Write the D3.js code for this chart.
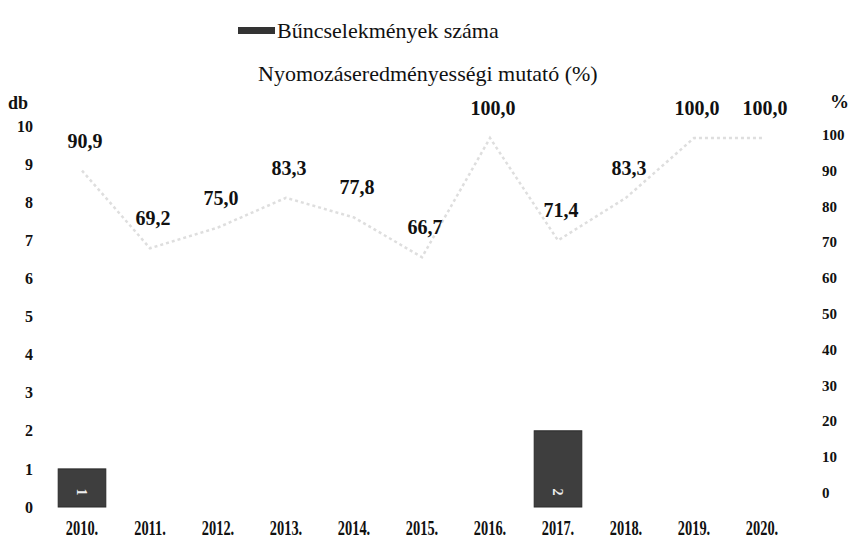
<!DOCTYPE html>
<html>
<head>
<meta charset="utf-8">
<script src="https://cdn.jsdelivr.net/npm/d3@7"></script>
<style>
  body { margin: 0; background: #fff; }
  text { font-family: "Liberation Serif", "Times New Roman", serif; }
</style>
</head>
<body>
<script>
const width = 855;
const height = 539;

// chart data
const years = ["2010.", "2011.", "2012.", "2013.", "2014.", "2015.", "2016.", "2017.", "2018.", "2019.", "2020."];
const crimes = [1, 0, 0, 0, 0, 0, 0, 2, 0, 0, 0];
const clearance = [90.9, 69.2, 75.0, 83.3, 77.8, 66.7, 100.0, 71.4, 83.3, 100.0, 100.0];
const leftTicks = [0, 1, 2, 3, 4, 5, 6, 7, 8, 9, 10];
const rightTicks = [0, 10, 20, 30, 40, 50, 60, 70, 80, 90, 100];
const seriesNames = ["Bűncselekmények száma", "Nyomozáseredményességi mutató (%)"];

const fmt = (v) => v.toFixed(1).replace(".", ",");

const svg = d3
  .select("body")
  .append("svg")
  .attr("width", width)
  .attr("height", height);

const x = d3
  .scaleBand()
  .domain(years)
  .range([48, 796])
  .paddingInner(0.3)
  .paddingOuter(0.15);

const yL = d3.scaleLinear().domain([0, 10]).range([507, 126]);
const yR = d3.scaleLinear().domain([0, 100]).range([496, 138]);

const cx = (year) => x(year) + x.bandwidth() / 2;

// left axis (db)
const axL = svg
  .append("g")
  .attr("transform", "translate(33,0)")
  .call(d3.axisLeft(yL).tickValues(leftTicks).tickSize(0).tickPadding(0));
axL.select(".domain").remove();
axL.selectAll("text")
  .attr("font-family", "Liberation Serif")
  .attr("font-size", 16)
  .attr("font-weight", "bold")
  .attr("fill", "#111");

// right axis (%)
const axR = svg
  .append("g")
  .attr("transform", "translate(822,0)")
  .call(d3.axisRight(yR).tickValues(rightTicks).tickSize(0).tickPadding(0));
axR.select(".domain").remove();
axR.selectAll("text")
  .attr("font-family", "Liberation Serif")
  .attr("font-size", 15)
  .attr("font-weight", "bold")
  .attr("fill", "#111")
  .attr("dy", "0.1em");

// x axis, labels are narrow in the original
const axX = svg
  .append("g")
  .attr("transform", "translate(0,528)")
  .call(d3.axisBottom(x).tickSize(0).tickPadding(0));
axX.select(".domain").remove();
axX.selectAll("text")
  .attr("font-family", "Liberation Serif")
  .attr("font-size", 20)
  .attr("font-weight", "bold")
  .attr("fill", "#111")
  .attr("dy", "0.35em")
  .attr("transform", "scale(0.72,1)");

svg.append("text")
  .attr("x", 8)
  .attr("y", 109)
  .attr("font-size", 18)
  .attr("font-weight", "bold")
  .attr("fill", "#111")
  .text("db");

svg.append("text")
  .attr("x", 830)
  .attr("y", 108)
  .attr("font-size", 19)
  .attr("font-weight", "bold")
  .attr("fill", "#111")
  .text("%");

// bars
const barData = years.map((y, i) => ({ year: y, value: crimes[i] })).filter((d) => d.value > 0);

svg.append("g")
  .selectAll("rect")
  .data(barData)
  .enter()
  .append("rect")
  .attr("x", (d) => x(d.year))
  .attr("y", (d) => yL(d.value))
  .attr("width", x.bandwidth())
  .attr("height", (d) => yL(0) - yL(d.value))
  .attr("fill", "#3e3e3e")
  .attr("stroke", "#2a2a2a");

svg.append("g")
  .selectAll("text")
  .data(barData)
  .enter()
  .append("text")
  .attr("transform", (d) => `translate(${cx(d.year)},${yL(0) - 15}) rotate(90)`)
  .attr("text-anchor", "middle")
  .attr("dy", "0.35em")
  .attr("font-size", 14)
  .attr("font-weight", "bold")
  .attr("fill", "#eee")
  .text((d) => d.value);

// line (very faint in the original)
const lineData = years.map((y, i) => ({ year: y, value: clearance[i] }));

svg.append("path")
  .datum(lineData)
  .attr("fill", "none")
  .attr("stroke", "#dedede")
  .attr("stroke-width", 2.5)
  .attr("stroke-dasharray", "3 3")
  .attr("d", d3.line().x((d) => cx(d.year)).y((d) => yR(d.value)));

svg.append("g")
  .selectAll("text")
  .data(lineData)
  .enter()
  .append("text")
  .attr("x", (d) => cx(d.year) + 3)
  .attr("y", (d) => yR(d.value) - 30)
  .attr("dy", "0.35em")
  .attr("text-anchor", "middle")
  .attr("font-size", 20)
  .attr("font-weight", "bold")
  .attr("fill", "#111")
  .text((d) => fmt(d.value));

// legend
svg.append("rect")
  .attr("x", 238)
  .attr("y", 27)
  .attr("width", 37)
  .attr("height", 7)
  .attr("fill", "#333");

svg.append("text")
  .attr("x", 277)
  .attr("y", 38)
  .attr("font-size", 22)
  .attr("fill", "#111")
  .text(seriesNames[0]);

svg.append("text")
  .attr("x", 258)
  .attr("y", 81)
  .attr("font-size", 22)
  .attr("fill", "#111")
  .text(seriesNames[1]);
</script>
</body>
</html>
